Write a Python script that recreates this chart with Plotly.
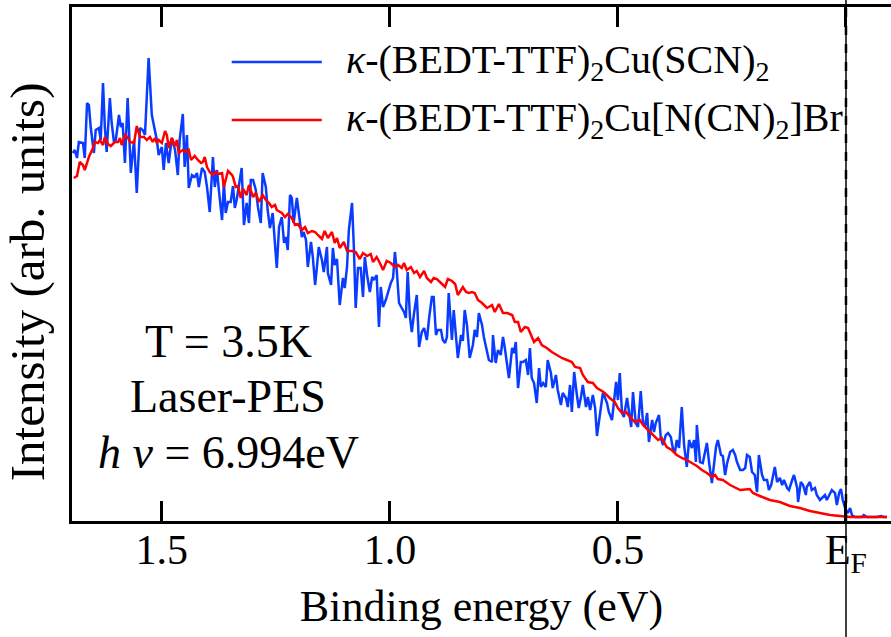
import plotly.graph_objects as go

# ---- data (binding energy in eV, intensity in arb. units) ----
scn_energy = [1.695, 1.691, 1.686, 1.682, 1.673, 1.669, 1.664, 1.660, 1.656, 1.649, 1.645, 1.638, 1.634, 1.629, 1.625, 1.621,
              1.614, 1.610, 1.605, 1.601, 1.594, 1.590, 1.586, 1.581, 1.575, 1.568, 1.561, 1.555, 1.548, 1.542, 1.537,
              1.529, 1.522, 1.515, 1.511, 1.507, 1.500, 1.496, 1.491, 1.485, 1.478, 1.471, 1.465, 1.461, 1.454, 1.450,
              1.445, 1.441, 1.434, 1.428, 1.423, 1.419, 1.412, 1.406, 1.401, 1.395, 1.388, 1.384, 1.379, 1.375, 1.368,
              1.364, 1.360, 1.355, 1.349, 1.344, 1.340, 1.336, 1.331, 1.325, 1.320, 1.314, 1.309, 1.305, 1.300, 1.294,
              1.289, 1.283, 1.279, 1.272, 1.268, 1.263, 1.257, 1.252, 1.248, 1.243, 1.237, 1.232, 1.228, 1.224, 1.219,
              1.215, 1.211, 1.204, 1.200, 1.193, 1.189, 1.184, 1.180, 1.173, 1.169, 1.164, 1.160, 1.156, 1.149, 1.145,
              1.138, 1.136, 1.129, 1.125, 1.121, 1.116, 1.110, 1.103, 1.099, 1.094, 1.090, 1.083, 1.079, 1.075, 1.070,
              1.064, 1.059, 1.055, 1.050, 1.044, 1.039, 1.035, 1.029, 1.024, 1.020, 1.015, 1.009, 1.004, 0.998, 0.993,
              0.989, 0.985, 0.980, 0.974, 0.969, 0.965, 0.961, 0.956, 0.952, 0.947, 0.941, 0.936, 0.930, 0.925, 0.919,
              0.914, 0.908, 0.904, 0.899, 0.895, 0.888, 0.884, 0.879, 0.875, 0.871, 0.864, 0.860, 0.855, 0.851, 0.844,
              0.840, 0.836, 0.831, 0.825, 0.818, 0.814, 0.809, 0.805, 0.798, 0.794, 0.787, 0.783, 0.776, 0.774, 0.768,
              0.763, 0.757, 0.752, 0.748, 0.743, 0.739, 0.732, 0.728, 0.724, 0.719, 0.713, 0.708, 0.702, 0.697, 0.693,
              0.689, 0.684, 0.678, 0.673, 0.669, 0.664, 0.658, 0.654, 0.647, 0.643, 0.636, 0.632, 0.625, 0.621, 0.614,
              0.610, 0.605, 0.601, 0.596, 0.590, 0.586, 0.581, 0.577, 0.570, 0.566, 0.561, 0.555, 0.550, 0.546, 0.539,
              0.533, 0.529, 0.524, 0.520, 0.513, 0.509, 0.504, 0.500, 0.496, 0.491, 0.487, 0.480, 0.476, 0.471, 0.467,
              0.461, 0.456, 0.450, 0.445, 0.441, 0.436, 0.432, 0.425, 0.421, 0.417, 0.410, 0.406, 0.401, 0.395, 0.390,
              0.384, 0.379, 0.375, 0.371, 0.366, 0.360, 0.355, 0.349, 0.344, 0.338, 0.333, 0.329, 0.327, 0.320, 0.314,
              0.309, 0.305, 0.300, 0.294, 0.289, 0.285, 0.281, 0.274, 0.270, 0.265, 0.261, 0.254, 0.248, 0.243, 0.239,
              0.232, 0.226, 0.221, 0.217, 0.211, 0.206, 0.200, 0.195, 0.191, 0.184, 0.180, 0.173, 0.169, 0.164, 0.160,
              0.156, 0.151, 0.145, 0.140, 0.136, 0.129, 0.125, 0.118, 0.114, 0.107, 0.105, 0.099, 0.094, 0.088, 0.086,
              0.079, 0.075, 0.068, 0.064, 0.057, 0.050, 0.046, 0.042, 0.035, 0.031, 0.024, 0.020, 0.015, 0.011, 0.007,
              0.002, -0.004, -0.009, -0.013, -0.020, -0.026, -0.035, -0.039, -0.046, -0.057, -0.068, -0.077, -0.083,
              -0.090]
scn_intensity = [368, 371, 363, 379, 378, 363, 418, 416, 394, 368, 391, 393, 381, 438, 394, 369,
                 423, 398, 379, 381, 406, 394, 398, 358, 423, 348, 381, 328, 393, 391, 386,
                 463, 406, 388, 381, 366, 374, 351, 378, 358, 383, 371, 346, 381, 407, 354,
                 386, 333, 346, 344, 348, 334, 353, 349, 334, 309, 364, 334, 351, 331, 301,
                 339, 308, 319, 319, 335, 313, 321, 338, 353, 296, 318, 298, 341, 341, 331,
                 313, 298, 348, 334, 311, 293, 308, 281, 253, 294, 304, 278, 284, 271, 326,
                 323, 298, 323, 308, 284, 289, 281, 254, 279, 264, 236, 254, 274, 261, 249,
                 274, 248, 236, 273, 256, 262, 216, 243, 233, 254, 291, 318, 274, 213, 253,
                 253, 224, 264, 246, 229, 244, 241, 246, 194, 234, 214, 221, 229, 238, 243,
                 269, 251, 218, 213, 209, 203, 249, 204, 189, 208, 226, 174, 189, 193, 181,
                 203, 224, 224, 186, 191, 191, 181, 178, 184, 228, 181, 211, 184, 163, 186,
                 180, 211, 196, 163, 176, 191, 184, 208, 196, 184, 171, 161, 159, 186, 158,
                 171, 166, 184, 173, 158, 143, 173, 168, 179, 133, 159, 159, 161, 146, 173,
                 143, 138, 118, 153, 134, 138, 134, 161, 148, 133, 146, 131, 116, 128, 123,
                 114, 136, 109, 149, 126, 113, 124, 136, 114, 124, 111, 126, 113, 85, 108,
                 128, 124, 118, 109, 101, 118, 139, 121, 148, 108, 104, 123, 108, 94, 129,
                 98, 94, 130, 98, 94, 108, 79, 101, 89, 98, 106, 83, 76, 86, 88,
                 84, 71, 69, 81, 73, 114, 76, 54, 81, 73, 81, 59, 96, 59, 58,
                 68, 78, 58, 38, 58, 74, 81, 66, 65, 46, 57, 69, 71, 66, 59,
                 51, 51, 53, 66, 64, 49, 46, 29, 66, 46, 41, 41, 31, 36, 46,
                 54, 39, 43, 36, 41, 33, 31, 41, 46, 33, 19, 39, 36, 26, 34,
                 39, 31, 33, 26, 21, 24, 26, 21, 28, 31, 28, 16, 28, 32, 21,
                 13, 8, 13, 6, 4, 4, 4, 6, 4, 4, 4, 5, 4,
                 4]

br_energy = [1.693, 1.686, 1.680, 1.673, 1.669, 1.660, 1.651, 1.647, 1.640, 1.636, 1.629, 1.625, 1.618, 1.612, 1.603,
             1.596, 1.592, 1.588, 1.581, 1.575, 1.570, 1.561, 1.555, 1.548, 1.539, 1.533, 1.526, 1.520, 1.515, 1.511,
             1.507, 1.500, 1.493, 1.489, 1.485, 1.478, 1.471, 1.467, 1.463, 1.454, 1.447, 1.441, 1.436, 1.428, 1.421,
             1.414, 1.410, 1.406, 1.401, 1.395, 1.388, 1.382, 1.377, 1.368, 1.364, 1.355, 1.346, 1.344, 1.338, 1.333,
             1.327, 1.322, 1.314, 1.309, 1.300, 1.294, 1.287, 1.279, 1.272, 1.265, 1.259, 1.252, 1.248, 1.237, 1.230,
             1.224, 1.215, 1.208, 1.202, 1.193, 1.186, 1.180, 1.171, 1.164, 1.158, 1.149, 1.143, 1.136, 1.127, 1.121,
             1.116, 1.110, 1.101, 1.094, 1.083, 1.075, 1.066, 1.059, 1.050, 1.042, 1.037, 1.029, 1.022, 1.015, 1.007,
             0.998, 0.989, 0.982, 0.974, 0.969, 0.963, 0.954, 0.947, 0.941, 0.934, 0.925, 0.919, 0.910, 0.904, 0.897,
             0.888, 0.879, 0.873, 0.864, 0.857, 0.851, 0.840, 0.833, 0.827, 0.820, 0.814, 0.807, 0.798, 0.787, 0.776,
             0.770, 0.761, 0.752, 0.743, 0.732, 0.726, 0.719, 0.713, 0.704, 0.697, 0.689, 0.684, 0.675, 0.667, 0.656,
             0.645, 0.634, 0.623, 0.612, 0.601, 0.594, 0.583, 0.577, 0.566, 0.555, 0.546, 0.535, 0.529, 0.518, 0.507,
             0.500, 0.491, 0.482, 0.474, 0.463, 0.452, 0.445, 0.434, 0.423, 0.412, 0.404, 0.393, 0.382, 0.371, 0.360,
             0.349, 0.338, 0.327, 0.316, 0.305, 0.294, 0.287, 0.281, 0.270, 0.254, 0.232, 0.211, 0.204, 0.189, 0.167,
             0.145, 0.123, 0.101, 0.079, 0.057, 0.035, 0.013, -0.009, -0.031, -0.053, -0.075, -0.090]
br_intensity = [343, 345, 359, 356, 351, 364, 373, 379, 378, 381, 376, 384, 377, 375, 379,
                379, 383, 376, 386, 384, 379, 378, 395, 384, 384, 381, 384, 379, 383, 378,
                381, 378, 390, 386, 373, 383, 375, 381, 368, 371, 369, 371, 361, 365, 361,
                358, 359, 364, 354, 349, 346, 349, 347, 348, 334, 350, 346, 344, 334, 335,
                323, 332, 326, 336, 324, 328, 319, 326, 321, 318, 314, 316, 311, 308, 304,
                307, 303, 296, 297, 291, 294, 288, 290, 289, 286, 282, 290, 283, 289, 278,
                283, 273, 279, 270, 270, 269, 262, 268, 265, 267, 259, 264, 258, 251, 260,
                258, 254, 256, 253, 258, 251, 254, 248, 250, 244, 250, 243, 239, 243, 242,
                238, 234, 242, 240, 237, 226, 234, 229, 228, 229, 228, 221, 218, 213, 216,
                209, 217, 208, 208, 206, 199, 199, 189, 194, 193, 184, 179, 183, 176, 173,
                169, 166, 163, 161, 159, 154, 153, 146, 139, 138, 133, 130, 128, 123, 119,
                113, 108, 109, 104, 99, 101, 96, 91, 86, 81, 83, 74, 71, 66, 63,
                61, 58, 55, 51, 48, 44, 46, 42, 41, 36, 31, 32, 28, 25, 21,
                19, 15, 13, 10, 8, 6, 5, 4, 4, 4, 4, 4]

tick_values = [1.5, 1.0, 0.5, 0.0]
tick_labels = ["1.5", "1.0", "0.5", "E<sub>F</sub>"]
series_names = ["<i>κ</i>-(BEDT-TTF)<sub>2</sub>Cu(SCN)<sub>2</sub>",
                "<i>κ</i>-(BEDT-TTF)<sub>2</sub>Cu[N(CN)<sub>2</sub>]Br"]
series_colors = ["#0a3cff", "#ff0000"]
info_lines = ["T = 3.5K", "Laser-PES", "<i>h ν</i> = 6.994eV"]

FONT = "Times New Roman"

fig = go.Figure()
fig.add_trace(go.Scatter(x=scn_energy, y=scn_intensity, mode="lines", name=series_names[0],
                         line=dict(color=series_colors[0], width=2.5), showlegend=False))
fig.add_trace(go.Scatter(x=br_energy, y=br_intensity, mode="lines", name=series_names[1],
                         line=dict(color=series_colors[1], width=2.5), showlegend=False))

# manual legend (long line keys)
legend_y = [0.893, 0.780]
for name, color, ly in zip(series_names, series_colors, legend_y):
    fig.add_shape(type="line", xref="paper", yref="paper", x0=0.195, x1=0.305, y0=ly, y1=ly,
                  line=dict(color=color, width=2.5))
    fig.add_annotation(xref="paper", yref="paper", x=0.332, y=ly, text=name, showarrow=False,
                       xanchor="left", yanchor="middle", font=dict(family=FONT, size=40, color="black"))

# info text
for txt, ty in zip(info_lines, [0.350, 0.243, 0.134]):
    fig.add_annotation(xref="paper", yref="paper", x=0.1905, y=ty, text=txt, showarrow=False,
                       xanchor="center", yanchor="middle", font=dict(family=FONT, size=46, color="black"))

# y-axis title
fig.add_annotation(xref="paper", yref="paper", x=-0.054, y=0.466, text="Intensity (arb. units)",
                   textangle=-90, showarrow=False, xanchor="center", yanchor="middle",
                   font=dict(family=FONT, size=49, color="black"))

# Fermi level line
fig.add_shape(type="line", xref="x", yref="paper", x0=0, x1=0, y0=-0.3, y1=1.03,
              line=dict(color="black", width=1.5))
fig.add_shape(type="line", xref="x", yref="paper", x0=0, x1=0, y0=0, y1=1,
              line=dict(color="black", width=2.5, dash="dash"))

fig.update_layout(
    width=891, height=637,
    margin=dict(l=72, r=0, t=7, b=116),
    paper_bgcolor="white", plot_bgcolor="white",
    font=dict(family=FONT, color="black"),
    xaxis=dict(range=[1.697, -0.0987], tickmode="array", tickvals=tick_values, ticktext=tick_labels,
               ticks="inside", ticklen=20, tickwidth=3, tickcolor="black", ticklabelstandoff=-10,
               showline=True, linewidth=3, linecolor="black", mirror="allticks",
               showgrid=False, zeroline=False, tickfont=dict(family=FONT, size=42),
               title=dict(text="Binding energy (eV)", font=dict(family=FONT, size=44), standoff=12)),
    yaxis=dict(range=[0, 514], showticklabels=False, ticks="", showline=True, linewidth=3,
               linecolor="black", showgrid=False, zeroline=False),
)

fig.write_html("out.html")
